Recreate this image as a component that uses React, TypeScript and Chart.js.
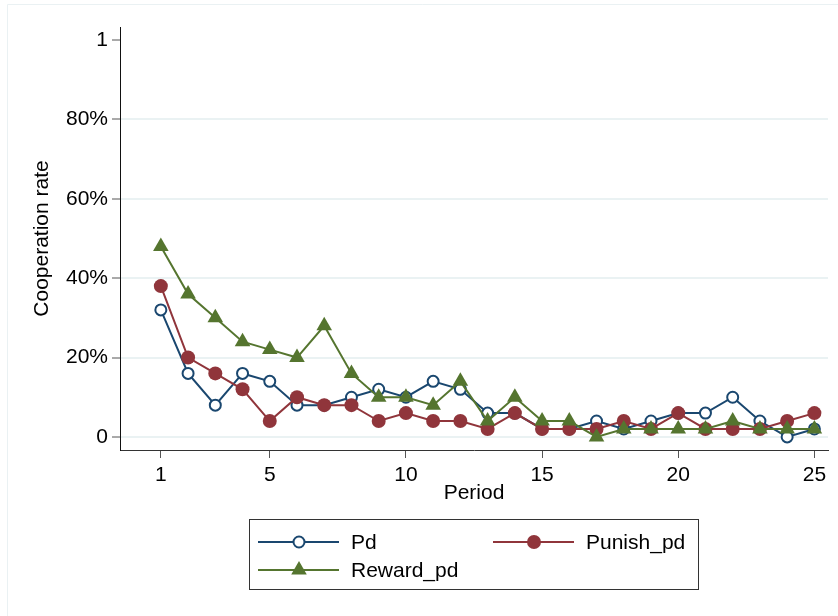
import React, { useEffect, useRef } from "react";
import { Chart, registerables } from "chart.js";

Chart.register(...registerables);

const periods = [1, 2, 3, 4, 5, 6, 7, 8, 9, 10, 11, 12, 13, 14, 15, 16, 17, 18, 19, 20, 21, 22, 23, 24, 25];
const pd = [0.32, 0.16, 0.08, 0.16, 0.14, 0.08, 0.08, 0.10, 0.12, 0.10, 0.14, 0.12, 0.06, 0.06, 0.02, 0.02, 0.04, 0.02, 0.04, 0.06, 0.06, 0.10, 0.04, 0.0, 0.02];
const punishPd = [0.38, 0.20, 0.16, 0.12, 0.04, 0.10, 0.08, 0.08, 0.04, 0.06, 0.04, 0.04, 0.02, 0.06, 0.02, 0.02, 0.02, 0.04, 0.02, 0.06, 0.02, 0.02, 0.02, 0.04, 0.06];
const rewardPd = [0.48, 0.36, 0.30, 0.24, 0.22, 0.20, 0.28, 0.16, 0.10, 0.10, 0.08, 0.14, 0.04, 0.10, 0.04, 0.04, 0.0, 0.02, 0.02, 0.02, 0.02, 0.04, 0.02, 0.02, 0.02];
const seriesNames = ["Pd", "Punish_pd", "Reward_pd"];
const yTickValues = [0, 0.2, 0.4, 0.6, 0.8, 1];
const yTickLabels = ["0", "20%", "40%", "60%", "80%", "1"];
const xTickValues = [1, 5, 10, 15, 20, 25];
const xTitle = "Period";
const yTitle = "Cooperation rate";

const BLUE = "#1a476f";
const RED = "#90353b";
const GREEN = "#55752f";
const FONT = "'Liberation Sans', Arial, sans-serif";
const FS = 21;

function drawMarker(ctx: CanvasRenderingContext2D, kind: string, x: number, y: number, color: string) {
  ctx.save();
  if (kind === "circleHollow") {
    ctx.beginPath();
    ctx.arc(x, y, 5.5, 0, Math.PI * 2);
    ctx.fillStyle = "#fff";
    ctx.fill();
    ctx.lineWidth = 2;
    ctx.strokeStyle = color;
    ctx.stroke();
  } else if (kind === "circle") {
    ctx.beginPath();
    ctx.arc(x, y, 7, 0, Math.PI * 2);
    ctx.fillStyle = color;
    ctx.fill();
  } else {
    const r = 9;
    ctx.beginPath();
    for (let i = 0; i < 3; i++) {
      const a = (i * 2 * Math.PI) / 3;
      const px = x + Math.sin(a) * r;
      const py = y - Math.cos(a) * r;
      if (i === 0) ctx.moveTo(px, py);
      else ctx.lineTo(px, py);
    }
    ctx.closePath();
    ctx.fillStyle = color;
    ctx.fill();
  }
  ctx.restore();
}

const framePlugin = {
  id: "frame",
  beforeDraw(chart: any) {
    const ctx = chart.ctx as CanvasRenderingContext2D;
    ctx.save();
    ctx.fillStyle = "#fff";
    ctx.fillRect(0, 0, chart.width, chart.height);
    ctx.strokeStyle = "#eaf1f3";
    ctx.lineWidth = 1;
    ctx.beginPath();
    ctx.moveTo(7.5, chart.height);
    ctx.lineTo(7.5, 4.5);
    ctx.lineTo(chart.width, 4.5);
    ctx.stroke();
    ctx.restore();
  },
};

const legendPlugin = {
  id: "boxLegend",
  afterDraw(chart: any) {
    const ctx = chart.ctx as CanvasRenderingContext2D;
    ctx.save();
    ctx.strokeStyle = "#333";
    ctx.lineWidth = 1;
    ctx.strokeRect(249.5, 519.5, 449, 70);
    const items = [
      { name: seriesNames[0], color: BLUE, kind: "circleHollow", x0: 258, y: 542 },
      { name: seriesNames[1], color: RED, kind: "circle", x0: 493, y: 542 },
      { name: seriesNames[2], color: GREEN, kind: "triangle", x0: 258, y: 570 },
    ];
    ctx.font = `${FS}px ${FONT}`;
    ctx.textBaseline = "middle";
    ctx.textAlign = "left";
    for (const it of items) {
      ctx.strokeStyle = it.color;
      ctx.lineWidth = 2;
      ctx.beginPath();
      ctx.moveTo(it.x0, it.y);
      ctx.lineTo(it.x0 + 81, it.y);
      ctx.stroke();
      drawMarker(ctx, it.kind, it.x0 + 41, it.y, it.color);
      ctx.fillStyle = "#000";
      ctx.fillText(it.name, it.x0 + 93, it.y + 1);
    }
    ctx.restore();
  },
};

export default function App() {
  const ref = useRef<HTMLCanvasElement | null>(null);

  useEffect(() => {
    if (!ref.current) return;
    const mk = (vals: number[]) => periods.map((p, i) => ({ x: p, y: vals[i] }));
    const chart = new Chart(ref.current, {
      type: "line",
      data: {
        datasets: [
          {
            label: seriesNames[0],
            data: mk(pd),
            borderColor: BLUE,
            backgroundColor: "#fff",
            borderWidth: 2,
            pointStyle: "circle",
            pointRadius: 5.5,
            pointBorderWidth: 2,
            pointBorderColor: BLUE,
            pointBackgroundColor: "#fff",
            order: 3,
          },
          {
            label: seriesNames[1],
            data: mk(punishPd),
            borderColor: RED,
            backgroundColor: RED,
            borderWidth: 2,
            pointStyle: "circle",
            pointRadius: 7,
            pointBorderWidth: 0,
            pointBackgroundColor: RED,
            order: 2,
          },
          {
            label: seriesNames[2],
            data: mk(rewardPd),
            borderColor: GREEN,
            backgroundColor: GREEN,
            borderWidth: 2,
            pointStyle: "triangle",
            pointRadius: 9,
            pointBorderWidth: 0,
            pointBackgroundColor: GREEN,
            order: 1,
          },
        ],
      },
      options: {
        animation: false,
        responsive: false,
        devicePixelRatio: 1,
        layout: { padding: { top: 27, right: 10, bottom: 106, left: 0 } },
        plugins: {
          legend: { display: false },
          tooltip: { enabled: false },
        },
        scales: {
          x: {
            type: "linear",
            min: -0.5,
            max: 25.5,
            afterBuildTicks: (scale: any) => {
              scale.ticks = xTickValues.map((v) => ({ value: v }));
            },
            afterFit: (scale: any) => {
              scale.height = 60;
            },
            grid: {
              drawOnChartArea: false,
              drawTicks: true,
              tickLength: 8,
              tickColor: "#555",
              tickWidth: 1,
            },
            border: { display: true, color: "#333", width: 1 },
            ticks: {
              color: "#000",
              font: { family: FONT, size: FS },
              padding: 5,
              maxRotation: 0,
              autoSkip: false,
              callback: (v: any) => String(v),
            },
            title: {
              display: true,
              text: xTitle,
              color: "#000",
              font: { family: FONT, size: FS },
              padding: { top: 0, bottom: 4 },
            },
          },
          y: {
            type: "linear",
            min: -0.033,
            max: 1.033,
            afterBuildTicks: (scale: any) => {
              scale.ticks = yTickValues.map((v) => ({ value: v }));
            },
            afterFit: (scale: any) => {
              scale.width = 120;
            },
            grid: {
              color: (c: any) => (c.tick && c.tick.value >= 0.99 ? "rgba(0,0,0,0)" : "#eaf2f3"),
              lineWidth: 2,
              drawTicks: true,
              tickLength: 8,
              tickColor: "#555",
              tickWidth: 1,
            },
            border: { display: true, color: "#111", width: 1 },
            ticks: {
              color: "#000",
              font: { family: FONT, size: FS },
              padding: 4,
              autoSkip: false,
              callback: (v: any) => {
                const i = yTickValues.findIndex((t) => Math.abs(t - v) < 1e-6);
                return i >= 0 ? yTickLabels[i] : "";
              },
            },
            title: {
              display: true,
              text: yTitle,
              color: "#000",
              font: { family: FONT, size: FS },
              padding: { top: 30, bottom: 0 },
            },
          },
        },
      },
      plugins: [framePlugin, legendPlugin],
    } as any);
    return () => chart.destroy();
  }, []);

  return (
    <div style={{ position: "fixed", left: 0, top: 0, width: 838, height: 616, background: "#fff" }}>
      <canvas ref={ref} width={838} height={616} style={{ display: "block", width: 838, height: 616 }} />
    </div>
  );
}
